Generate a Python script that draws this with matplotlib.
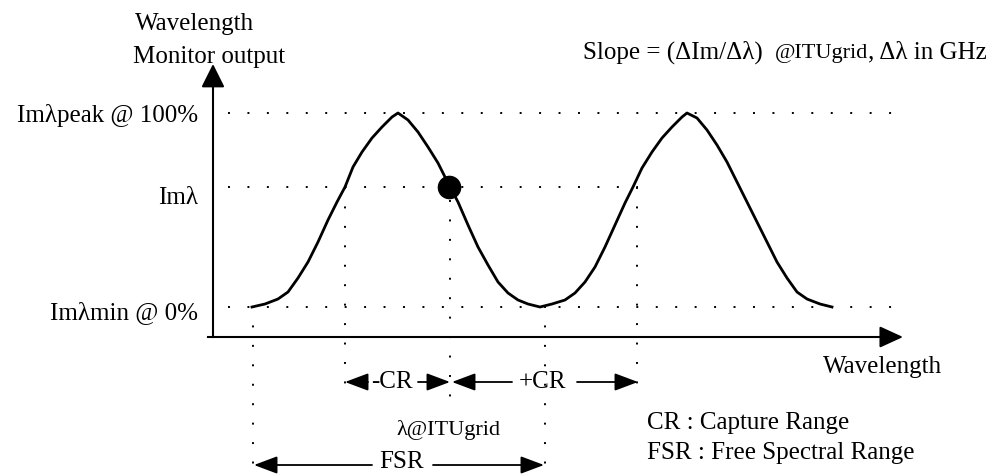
import matplotlib.pyplot as plt

plt.rcParams['font.family'] = ['Liberation Serif', 'DejaVu Serif']

# monitor response curve (pixel coordinates, y down)
curve_x = [252, 265, 278, 288, 298, 308, 318, 328, 337, 345, 353, 362, 372, 382, 392, 398,
           408, 418, 428, 438, 448, 458, 468, 478, 488, 498, 508, 518, 528, 540,
           552, 565, 575, 585, 595, 605, 615, 625, 633, 642, 652, 662, 672, 682, 687,
           697, 707, 717, 727, 737, 747, 757, 767, 777, 787, 797, 807, 820, 832]
curve_y = [307, 304, 299, 292, 278, 262, 242, 220, 202, 187, 167, 152, 138, 127, 117, 113,
           120, 132, 147, 163, 183, 202, 225, 247, 265, 282, 293, 300, 304, 307,
           304, 300, 293, 282, 267, 247, 225, 203, 187, 168, 152, 138, 127, 117, 113,
           118, 130, 145, 162, 182, 202, 222, 242, 262, 278, 292, 299, 304, 307]

level_y = [113, 187, 307]
level_labels = ['Im\u03bbpeak @ 100%', 'Im\u03bb', 'Im\u03bbmin @ 0%']
level_ends = [905, 638, 905]

itu_point = (449, 187)

fig = plt.figure(figsize=(9.93, 4.74), dpi=100)
ax = fig.add_axes([0, 0, 1, 1])
ax.set_xlim(0, 993)
ax.set_ylim(474, 0)
ax.axis('off')

dot = dict(color='black', lw=1.4, linestyle=(0, (1, 9)))
fs = 18

# horizontal reference levels
for y, xe in zip(level_y, level_ends):
    ax.plot([228, xe], [y, y], **dot)
ax.text(198, 115, level_labels[0], ha='right', va='center', fontsize=fs)
ax.text(198, 198, level_labels[1], ha='right', va='center', fontsize=fs)
ax.text(198, 313, level_labels[2], ha='right', va='center', fontsize=fs)

# vertical guides
ax.plot([253, 253], [306, 474], **dot)
ax.plot([345, 345], [187, 392], **dot)
ax.plot([450, 450], [200, 412], **dot)
ax.plot([545, 545], [306, 474], **dot)
ax.plot([637, 637], [187, 392], **dot)

# axes with arrows
ax.plot([213, 213], [337, 80], color='black', lw=1.5)
ax.plot([208, 890], [337, 337], color='black', lw=1.5)
ax.annotate('', xy=(213, 64), xytext=(213, 84),
            arrowprops=dict(arrowstyle='-|>,head_length=1.2,head_width=0.6',
                            mutation_scale=12, color='black', lw=1.5,
                            shrinkA=0, shrinkB=0))
ax.annotate('', xy=(903, 337), xytext=(883, 337),
            arrowprops=dict(arrowstyle='-|>,head_length=1.2,head_width=0.55',
                            mutation_scale=12, color='black', lw=1.5,
                            shrinkA=0, shrinkB=0))

# curve and operating point
ax.plot(curve_x, curve_y, color='black', lw=2, solid_joinstyle='round')
ax.plot(*itu_point, 'o', color='black', markersize=16)

# range arrows
arr = dict(arrowstyle='-|>,head_length=1.2,head_width=0.45', mutation_scale=12,
           color='black', lw=1.3, shrinkA=0, shrinkB=0)
for x0, x1, y in [(368, 345, 382), (418, 450, 382), (512, 452, 382), (577, 638, 382),
                  (372, 254, 465), (433, 544, 465)]:
    ax.annotate('', xy=(x1, y), xytext=(x0, y), arrowprops=arr)
ax.text(392, 382, '-CR', ha='center', va='center', fontsize=fs)
ax.text(542, 382, '+CR', ha='center', va='center', fontsize=fs)
ax.text(402, 462, 'FSR', ha='center', va='center', fontsize=fs)
ax.text(448, 430, '\u03bb@ITUgrid', ha='center', va='center', fontsize=16)

# labels
ax.text(135, 24, 'Wavelength', ha='left', va='center', fontsize=fs)
ax.text(133, 57, 'Monitor output', ha='left', va='center', fontsize=fs)
ax.text(823, 367, 'Wavelength', ha='left', va='center', fontsize=fs)
ax.text(647, 423, 'CR : Capture Range', ha='left', va='center', fontsize=fs)
ax.text(647, 453, 'FSR : Free Spectral Range', ha='left', va='center', fontsize=fs)

ax.text(583, 52, 'Slope = (\u0394Im/\u0394\u03bb)', ha='left', va='center', fontsize=fs)
ax.text(821, 53, '@ITUgrid', ha='center', va='center', fontsize=16)
ax.text(987, 52, ', \u0394\u03bb in GHz', ha='right', va='center', fontsize=fs)

fig.savefig('out.png', dpi=100)
